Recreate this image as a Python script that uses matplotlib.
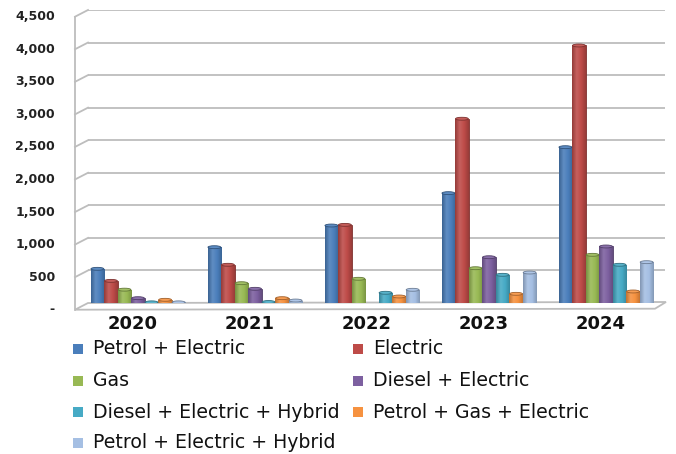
import numpy as np
import matplotlib
matplotlib.use("Agg")
import matplotlib.pyplot as plt
from matplotlib.patches import Rectangle, Ellipse, Polygon
from matplotlib.colors import LinearSegmentedColormap, to_rgb

years = ["2020", "2021", "2022", "2023", "2024"]
series = ["Petrol + Electric", "Electric", "Gas", "Diesel + Electric",
          "Diesel + Electric + Hybrid", "Petrol + Gas + Electric",
          "Petrol + Electric + Hybrid"]
petrol_electric = [525, 857, 1190, 1687, 2393]
electric = [340, 587, 1200, 2830, 3955]
gas = [205, 304, 372, 534, 740]
diesel_electric = [74, 218, 0, 703, 868]
diesel_electric_hybrid = [10, 15, 157, 433, 587]
petrol_gas_electric = [49, 74, 100, 141, 177]
petrol_electric_hybrid = [10, 38, 203, 468, 627]
values = [petrol_electric, electric, gas, diesel_electric,
          diesel_electric_hybrid, petrol_gas_electric, petrol_electric_hybrid]
colors = ["#4A7EBB", "#BE4B48", "#98B954", "#7D60A0", "#46AAC5", "#F69240", "#A5BFE3"]
yticks = [0, 500, 1000, 1500, 2000, 2500, 3000, 3500, 4000, 4500]
ytick_labels = ["-", "500", "1,000", "1,500", "2,000", "2,500", "3,000",
                "3,500", "4,000", "4,500"]

W, H = 676, 454


def fx(px):
    return px / W


def fy(py):
    return 1 - py / H


plt.rcParams["font.family"] = ["DejaVu Sans"]
fig = plt.figure(figsize=(W / 100, H / 100), dpi=100)
fig.patch.set_facecolor("white")

# back wall of the 3D box
x_back, x_front, x_right = 88, 75, 665
y_zero, y_top = 303, 10
depth = 6.7
ax = fig.add_axes([fx(x_back), fy(y_zero), fx(x_right - x_back), (y_zero - y_top) / H])
ax.set_xlim((x_back - 138) / 117, (x_right - 138) / 117)
ax.set_ylim(0, 4500)
ax.axis("off")

grid_c = "#BDBDBD"
for t in yticks[1:]:
    ax.axhline(t, color=grid_c, lw=1.3, zorder=0)


# left wall and floor drawn in figure pixels
def fig_line(xs, ys, **kw):
    fig.add_artist(plt.Line2D([fx(x) for x in xs], [fy(y) for y in ys],
                              transform=fig.transFigure, **kw))


for t in yticks[1:]:
    y = y_zero - (y_zero - y_top) * t / 4500
    fig_line([x_front, x_back], [y + depth, y], color=grid_c, lw=1.3)
fig_line([x_front, x_front], [y_top + depth, y_zero + depth], color=grid_c, lw=1.3)
floor = Polygon([(fx(x_front), fy(y_zero + depth)), (fx(x_back), fy(y_zero)),
                 (fx(x_right + 1), fy(y_zero - 1)), (fx(x_right - 10), fy(y_zero + depth - 1))],
                closed=True, transform=fig.transFigure, facecolor="white",
                edgecolor=grid_c, lw=1.3, zorder=0)
fig.add_artist(floor)

for t, lab in zip(yticks, ytick_labels):
    y = y_zero - (y_zero - y_top) * t / 4500 + depth
    fig.text(fx(55), fy(y), lab, ha="right", va="center", fontsize=9,
             fontweight="bold", color="#222222")


def shade(c, f):
    r = np.array(to_rgb(c))
    if f < 1:
        return tuple(r * f)
    return tuple(r + (1 - r) * (f - 1))


# cylinder-style bars with a horizontal gradient
n = len(series)
bw = 0.81 / n
x = np.arange(len(years))
grad = np.linspace(0, 1, 64).reshape(1, -1)
for i, (vals, c) in enumerate(zip(values, colors)):
    cmap = LinearSegmentedColormap.from_list(
        "cyl", [shade(c, 0.78), shade(c, 1.12), shade(c, 1.0), shade(c, 0.8)])
    xs = x - 0.405 + bw * (i + 0.5)
    bars = ax.bar(xs, vals, width=bw, color=c, edgecolor=shade(c, 0.65), lw=0.6, zorder=2)
    for b, v in zip(bars, vals):
        if v <= 0:
            continue
        x0 = b.get_x()
        im = ax.imshow(grad, cmap=cmap, aspect="auto", zorder=2.5,
                       extent=[x0, x0 + bw, 0, v], interpolation="bilinear")
        im.set_clip_path(b)
        ax.add_patch(Ellipse((x0 + bw / 2, v), bw * 0.95, 45, facecolor=shade(c, 1.1),
                             edgecolor=shade(c, 0.65), lw=0.6, zorder=3))

for i, yr in enumerate(years):
    px = 133 + 117 * i
    fig.text(fx(px), fy(324), yr, ha="center", va="center", fontsize=13,
             fontweight="bold", color="#111111")

# legend in two columns
legend_pos = [(73, 349), (353, 349), (73, 381), (353, 381),
              (73, 412), (353, 412), (73, 443)]
for (lx, ly), name, c in zip(legend_pos, series, colors):
    fig.add_artist(Rectangle((fx(lx), fy(ly + 5)), 10 / W, 10 / H, transform=fig.transFigure,
                             facecolor=c, edgecolor="none"))
    fig.text(fx(lx + 20), fy(ly), name, ha="left", va="center", fontsize=13.6,
             color="#111111")

fig.savefig("out.png", dpi=100)
